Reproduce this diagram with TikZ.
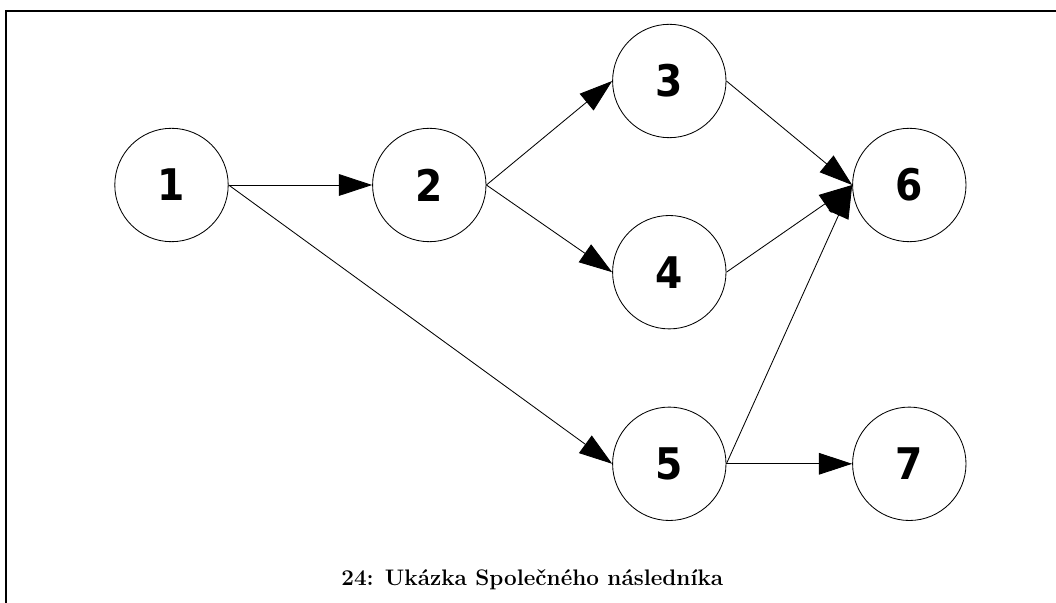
\documentclass[tikz,border=0pt]{standalone}
\usepackage{fontspec}
\newfontfamily\numfont{DejaVu Sans Condensed}
\usetikzlibrary{automata,positioning,arrows.meta}

\begin{document}
\begin{tikzpicture}[>={Triangle[length=0.83cm,width=0.54cm]},line width=0.6pt,node distance=6cm,on grid,
	every state/.style={draw,minimum size=2.835cm,inner sep=0pt,font=\numfont\bfseries\fontsize{31}{36}\selectfont}]
			\useasboundingbox (-4.2875,-10.45) rectangle (22.1125,4.625);
			\draw[line width=1.4pt] (-4.13,-10.6) |- (22.3,4.35);
			\node[state](n1) {1};
			\node[state](n2)[right=6.445cm of n1] {2};
			\node[state](n3)[above right=2.6cm and 6cm of n2] {3};
			\node[state](n4)[below=4.78cm of n3] {4};
			\node[state](n5)[below=4.79cm of n4] {5};
			\node[state](n6)[below right=2.6cm and 6cm of n3] {6};
			\node[state](n7)[right=of n5] {7};
			\path[->]
			(n1.east) edge (n2.west)
			(n1.east) edge (n5.west)
			(n2.east) edge (n3.west)
			(n2.east) edge (n4.west)
			(n3.east) edge (n6.west)
			(n4.east) edge (n6.west)
			(n5.east) edge (n6.west)
			(n5.east) edge (n7.west);
			\node(caption)[anchor=base] at (9.02,-10.02) {\bfseries\fontsize{16}{19}\selectfont 24: Ukázka Společného následníka};
			\end{tikzpicture}
\end{document}
